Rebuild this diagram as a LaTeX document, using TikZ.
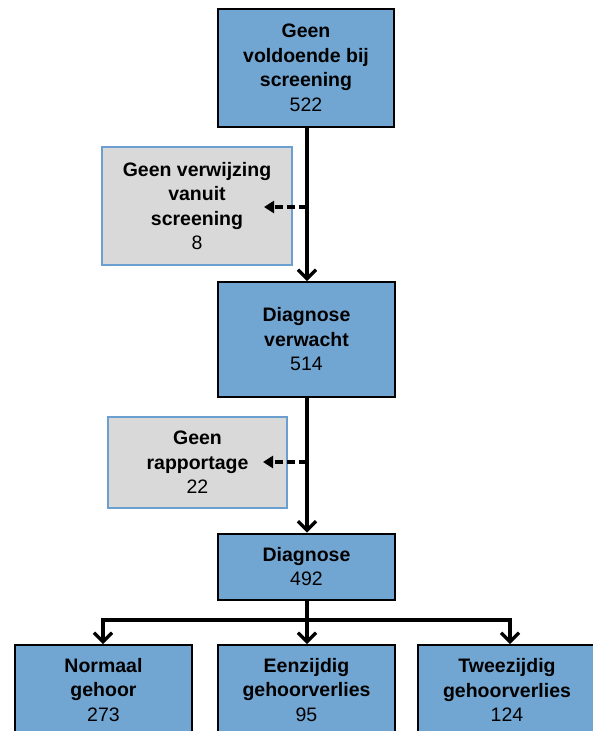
\documentclass[tikz,border=0pt]{standalone}
\usepackage{fontspec}
\setmainfont{Liberation Sans}
\usetikzlibrary{arrows.meta}
\definecolor{boxblue}{HTML}{72A6D2}
\definecolor{boxgrey}{HTML}{D9D9D9}
\definecolor{greyedge}{HTML}{6A9FCF}
\tikzset{
  mainbox/.style={draw=black, line width=2pt, fill=boxblue, inner sep=0pt, align=center,
    font=\fontsize{19.5}{24.5}\selectfont},
  sidebox/.style={draw=greyedge, line width=2pt, fill=boxgrey, inner sep=0pt, align=center,
    font=\fontsize{19.5}{24.5}\selectfont},
  flow/.style={line width=3.2pt, -{Straight Barb[length=9pt,width=18pt,line width=3.2pt]}},
  branch/.style={line width=3.2pt},
  sidearrow/.style={line width=3.2pt, dash pattern=on 8pt off 4pt, -{Triangle[length=10pt,width=12pt]}}
}
\begin{document}
\begin{tikzpicture}[x=1pt,y=-1pt]
\useasboundingbox (0,0) rectangle (593,731);
\node[mainbox, minimum width=176pt, minimum height=118pt] (top) at (306,68)
  {\textbf{Geen}\\\textbf{voldoende bij}\\\textbf{screening}\\522};
\node[mainbox, minimum width=177pt, minimum height=115pt] (verw) at (306.5,339.5)
  {\textbf{Diagnose}\\\textbf{verwacht}\\514};
\node[mainbox, minimum width=177pt, minimum height=66pt] (diag) at (306.5,566.5)
  {\textbf{Diagnose}\\492};
\node[sidebox, minimum width=190pt, minimum height=118pt] (geenverw) at (197,206)
  {\textbf{Geen verwijzing}\\\textbf{vanuit}\\\textbf{screening}\\8};
\node[sidebox, minimum width=179pt, minimum height=91pt] (geenrap) at (197.5,462.5)
  {\textbf{Geen}\\\textbf{rapportage}\\22};
\node[mainbox, minimum width=177pt, minimum height=90pt, anchor=north] (norm) at (103.5,644)
  {\textbf{Normaal}\\\textbf{gehoor}\\273};
\node[mainbox, minimum width=177pt, minimum height=90pt, anchor=north] (een) at (306.5,644)
  {\textbf{Eenzijdig}\\\textbf{gehoorverlies}\\95};
\node[mainbox, minimum width=178pt, minimum height=90pt, anchor=north] (twee) at (507,644)
  {\textbf{Tweezijdig}\\\textbf{gehoorverlies}\\124};
% main flow
\draw[flow] (top.south -| 307,0) -- (verw.north -| 307,0);
\draw[flow] (verw.south -| 307,0) -- (diag.north -| 307,0);
% side arrows
\coordinate (s1) at (307,207);
\coordinate (t1) at (264,207);
\coordinate (s2) at (307,462);
\coordinate (t2) at (263,462);
\draw[sidearrow] (s1) -- (t1);
\draw[sidearrow] (s2) -- (t2);
% branches
\coordinate (hub) at (307,620);
\coordinate (hl) at (103,620);
\coordinate (hr) at (510,620);
\draw[branch] (diag.south -| 307,0) -- (hub);
\draw[branch, line cap=rect] (hl) -- (hr);
\draw[flow] (hl) -- (norm.north -| hl);
\draw[flow] (hub) -- (een.north -| hub);
\draw[flow] (hr) -- (twee.north -| hr);
\end{tikzpicture}
\end{document}
